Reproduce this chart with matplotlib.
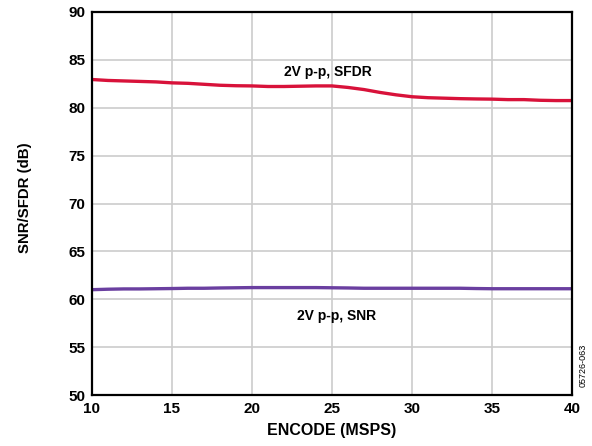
import numpy as np
import matplotlib.pyplot as plt

plt.rcParams['font.family'] = ['Liberation Sans', 'DejaVu Sans']

# données
encode = [10, 11, 12, 13, 14, 15, 16, 17, 18, 19, 20, 21, 22, 23, 24, 25,
          26, 27, 28, 29, 30, 31, 32, 33, 34, 35, 36, 37, 38, 39, 40]
sfdr = [82.95, 82.85, 82.8, 82.75, 82.7, 82.6, 82.55, 82.45, 82.35, 82.3, 82.28,
        82.22, 82.22, 82.25, 82.28, 82.28, 82.12, 81.9, 81.6, 81.35, 81.15,
        81.05, 81.0, 80.95, 80.92, 80.9, 80.85, 80.85, 80.78, 80.75, 80.75]
snr = [61.0, 61.05, 61.08, 61.08, 61.1, 61.12, 61.15, 61.15, 61.18, 61.2, 61.22,
       61.22, 61.22, 61.22, 61.22, 61.2, 61.18, 61.15, 61.15, 61.15, 61.15,
       61.15, 61.15, 61.15, 61.12, 61.1, 61.1, 61.1, 61.1, 61.1, 61.1]

fig = plt.figure(figsize=(5.92, 4.46), dpi=100)
ax = fig.add_axes([0.1554, 0.1143, 0.8108, 0.8588])

ax.plot(encode, sfdr, color='#D8123A', linewidth=2.4, solid_capstyle='butt')
ax.plot(encode, snr, color='#6A3FA0', linewidth=2.4, solid_capstyle='butt')

ax.set_xlim(10, 40)
ax.set_ylim(50, 90)
ax.set_xticks(np.arange(10, 41, 5))
ax.set_yticks(np.arange(50, 91, 5))
ax.grid(True, color='#CCCCCC', linewidth=1.2)
ax.set_axisbelow(True)
ax.tick_params(length=0, labelsize=11, pad=5)
for lab in ax.get_xticklabels() + ax.get_yticklabels():
    lab.set_fontweight('bold')
for sp in ax.spines.values():
    sp.set_linewidth(1.6)
    sp.set_color('black')

ax.set_xlabel('ENCODE (MSPS)', fontsize=11.5, fontweight='bold', labelpad=5)
ax.set_ylabel('SNR/SFDR (dB)', fontsize=10.8, fontweight='bold')
ax.yaxis.set_label_coords(-0.125, 0.516)

ax.text(24.75, 83.7, '2V p-p, SFDR', fontsize=10, fontweight='bold',
        ha='center', va='center')
ax.text(25.3, 58.25, '2V p-p, SNR', fontsize=10, fontweight='bold',
        ha='center', va='center')

fig.text(0.985, 0.18, '05726-063', rotation=90, fontsize=6.5,
         ha='center', va='center')

fig.savefig('out.png', dpi=100)
